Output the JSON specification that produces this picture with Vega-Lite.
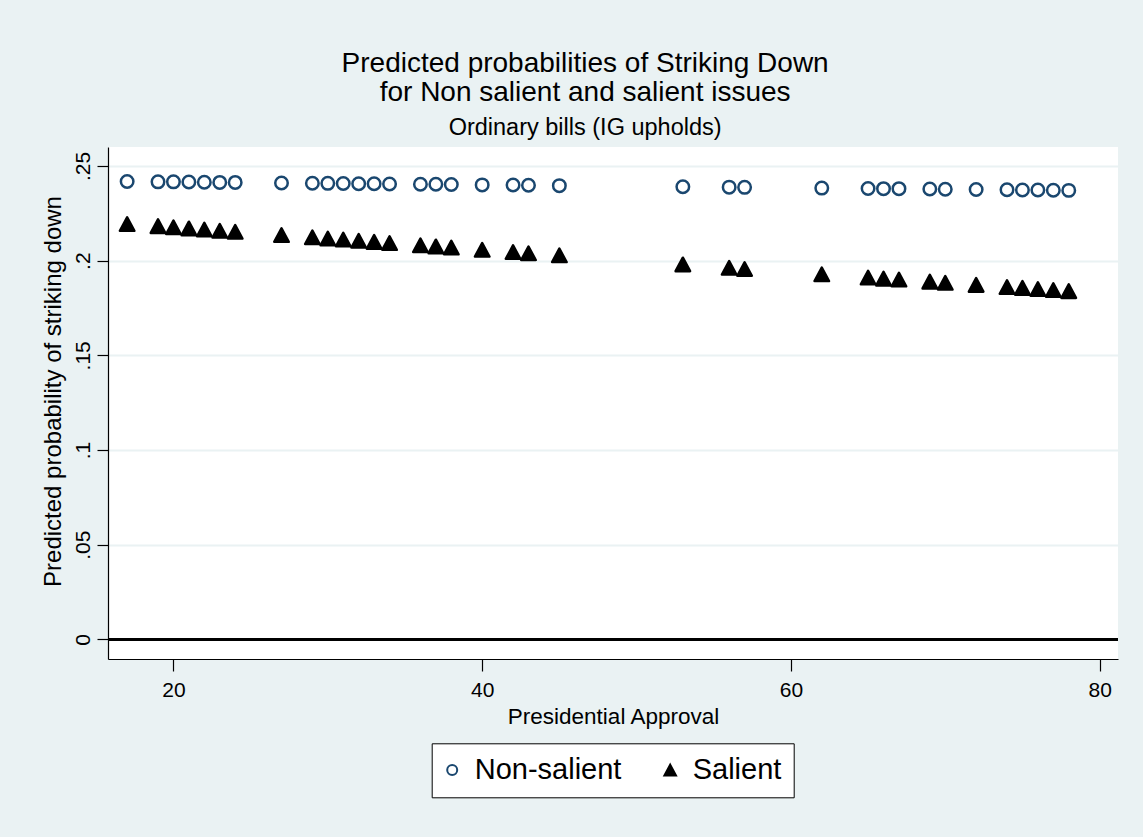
{
  "$schema": "https://vega.github.io/schema/vega-lite/v6.json",
  "autosize": {"type": "none"},
  "width": 1010,
  "height": 512,
  "padding": {"left": 108, "top": 147, "right": 25, "bottom": 178},
  "background": "#EAF2F3",
  "title": {
    "text": ["Predicted probabilities of Striking Down", "for Non salient and salient issues"],
    "subtitle": "Ordinary bills (IG upholds)",
    "anchor": "middle",
    "frame": "bounds",
    "dx": 5,
    "fontSize": 28,
    "fontWeight": "normal",
    "lineHeight": 28.5,
    "subtitleFontSize": 23.5,
    "subtitlePadding": 9,
    "subtitleColor": "black",
    "color": "black",
    "offset": 8
  },
  "data": {
    "values": [
      {"x": 17, "p": 0.2418, "series": "Non-salient"},
      {"x": 19, "p": 0.2416, "series": "Non-salient"},
      {"x": 20, "p": 0.2416, "series": "Non-salient"},
      {"x": 21, "p": 0.2415, "series": "Non-salient"},
      {"x": 22, "p": 0.2414, "series": "Non-salient"},
      {"x": 23, "p": 0.2413, "series": "Non-salient"},
      {"x": 24, "p": 0.2413, "series": "Non-salient"},
      {"x": 27, "p": 0.2410, "series": "Non-salient"},
      {"x": 29, "p": 0.2409, "series": "Non-salient"},
      {"x": 30, "p": 0.2408, "series": "Non-salient"},
      {"x": 31, "p": 0.2407, "series": "Non-salient"},
      {"x": 32, "p": 0.2406, "series": "Non-salient"},
      {"x": 33, "p": 0.2406, "series": "Non-salient"},
      {"x": 34, "p": 0.2405, "series": "Non-salient"},
      {"x": 36, "p": 0.2403, "series": "Non-salient"},
      {"x": 37, "p": 0.2403, "series": "Non-salient"},
      {"x": 38, "p": 0.2402, "series": "Non-salient"},
      {"x": 40, "p": 0.2400, "series": "Non-salient"},
      {"x": 42, "p": 0.2399, "series": "Non-salient"},
      {"x": 43, "p": 0.2398, "series": "Non-salient"},
      {"x": 45, "p": 0.2396, "series": "Non-salient"},
      {"x": 53, "p": 0.2390, "series": "Non-salient"},
      {"x": 56, "p": 0.2388, "series": "Non-salient"},
      {"x": 57, "p": 0.2387, "series": "Non-salient"},
      {"x": 62, "p": 0.2383, "series": "Non-salient"},
      {"x": 65, "p": 0.2381, "series": "Non-salient"},
      {"x": 66, "p": 0.2380, "series": "Non-salient"},
      {"x": 67, "p": 0.2380, "series": "Non-salient"},
      {"x": 69, "p": 0.2378, "series": "Non-salient"},
      {"x": 70, "p": 0.2377, "series": "Non-salient"},
      {"x": 72, "p": 0.2376, "series": "Non-salient"},
      {"x": 74, "p": 0.2374, "series": "Non-salient"},
      {"x": 75, "p": 0.2373, "series": "Non-salient"},
      {"x": 76, "p": 0.2373, "series": "Non-salient"},
      {"x": 77, "p": 0.2372, "series": "Non-salient"},
      {"x": 78, "p": 0.2371, "series": "Non-salient"},
      {"x": 17, "p": 0.2193, "series": "Salient"},
      {"x": 19, "p": 0.2182, "series": "Salient"},
      {"x": 20, "p": 0.2176, "series": "Salient"},
      {"x": 21, "p": 0.2170, "series": "Salient"},
      {"x": 22, "p": 0.2164, "series": "Salient"},
      {"x": 23, "p": 0.2158, "series": "Salient"},
      {"x": 24, "p": 0.2152, "series": "Salient"},
      {"x": 27, "p": 0.2135, "series": "Salient"},
      {"x": 29, "p": 0.2123, "series": "Salient"},
      {"x": 30, "p": 0.2117, "series": "Salient"},
      {"x": 31, "p": 0.2111, "series": "Salient"},
      {"x": 32, "p": 0.2105, "series": "Salient"},
      {"x": 33, "p": 0.2099, "series": "Salient"},
      {"x": 34, "p": 0.2093, "series": "Salient"},
      {"x": 36, "p": 0.2081, "series": "Salient"},
      {"x": 37, "p": 0.2075, "series": "Salient"},
      {"x": 38, "p": 0.2069, "series": "Salient"},
      {"x": 40, "p": 0.2057, "series": "Salient"},
      {"x": 42, "p": 0.2045, "series": "Salient"},
      {"x": 43, "p": 0.2039, "series": "Salient"},
      {"x": 45, "p": 0.2028, "series": "Salient"},
      {"x": 53, "p": 0.1980, "series": "Salient"},
      {"x": 56, "p": 0.1962, "series": "Salient"},
      {"x": 57, "p": 0.1956, "series": "Salient"},
      {"x": 62, "p": 0.1928, "series": "Salient"},
      {"x": 65, "p": 0.1911, "series": "Salient"},
      {"x": 66, "p": 0.1905, "series": "Salient"},
      {"x": 67, "p": 0.1900, "series": "Salient"},
      {"x": 69, "p": 0.1889, "series": "Salient"},
      {"x": 70, "p": 0.1883, "series": "Salient"},
      {"x": 72, "p": 0.1872, "series": "Salient"},
      {"x": 74, "p": 0.1861, "series": "Salient"},
      {"x": 75, "p": 0.1856, "series": "Salient"},
      {"x": 76, "p": 0.1850, "series": "Salient"},
      {"x": 77, "p": 0.1845, "series": "Salient"},
      {"x": 78, "p": 0.1839, "series": "Salient"}
    ]
  },
  "layer": [
    {
      "mark": {"type": "rule", "color": "black", "strokeWidth": 2.5},
      "encoding": {"y": {"datum": 0, "type": "quantitative", "scale": {"domain": [-0.0103, 0.26], "nice": false, "zero": false}}}
    },
    {
      "mark": {"type": "point", "size": 156, "strokeWidth": 2.5, "opacity": 1, "strokeJoin": "round"},
      "encoding": {
        "x": {
          "field": "x", "type": "quantitative",
          "scale": {"domain": [15.76, 81.19], "nice": false, "zero": false},
          "axis": {"title": "Presidential Approval", "values": [20, 40, 60, 80], "grid": false}
        },
        "y": {
          "field": "p", "type": "quantitative",
          "scale": {"domain": [-0.0103, 0.26], "nice": false, "zero": false},
          "axis": {
            "title": "Predicted probability of striking down",
            "values": [0, 0.05, 0.1, 0.15, 0.2, 0.25],
            "labelExpr": "datum.value == 0 ? '0' : replace(format(datum.value, '.2~f'), '0.', '.')",
            "grid": true,
            "labelAngle": -90,
            "labelAlign": "center",
            "labelBaseline": "bottom",
            "labelPadding": 4,
            "titlePadding": 7,
            "titleFontSize": 24,
            "titleY": 244
          }
        },
        "shape": {
          "field": "series", "type": "nominal",
          "scale": {"domain": ["Non-salient", "Salient"], "range": ["circle", "M0,-1.08L1.16,1.08L-1.16,1.08Z"]},
          "legend": {"title": null}
        },
        "stroke": {
          "field": "series", "type": "nominal",
          "scale": {"domain": ["Non-salient", "Salient"], "range": ["#1A476F", "#000000"]},
          "legend": {"title": null}
        },
        "fill": {
          "field": "series", "type": "nominal",
          "scale": {"domain": ["Non-salient", "Salient"], "range": ["transparent", "#000000"]},
          "legend": {"title": null}
        }
      }
    }
  ],
  "config": {
    "font": "Liberation Sans",
    "view": {"fill": "white", "stroke": null},
    "axis": {
      "domainColor": "black",
      "domainWidth": 1.2,
      "tickColor": "black",
      "tickWidth": 1.2,
      "tickSize": 11,
      "labelFontSize": 21,
      "labelColor": "black",
      "titleFontSize": 22.5,
      "titleFontWeight": "normal",
      "titleColor": "black",
      "gridColor": "#EAF2F3",
      "gridWidth": 2
    },
    "axisX": {"labelPadding": 8, "titlePadding": 5, "tickSize": 12},
    "legend": {
      "orient": "none",
      "legendX": 323.7,
      "legendY": 596.3,
      "direction": "horizontal",
      "fillColor": "white",
      "strokeColor": "black",
      "padding": 12,
      "labelFontSize": 29,
      "labelColor": "black",
      "labelOffset": 8,
      "columnPadding": 38,
      "symbolOffset": -6,
      "symbolSize": 100,
      "symbolStrokeWidth": 2
    }
  }
}
